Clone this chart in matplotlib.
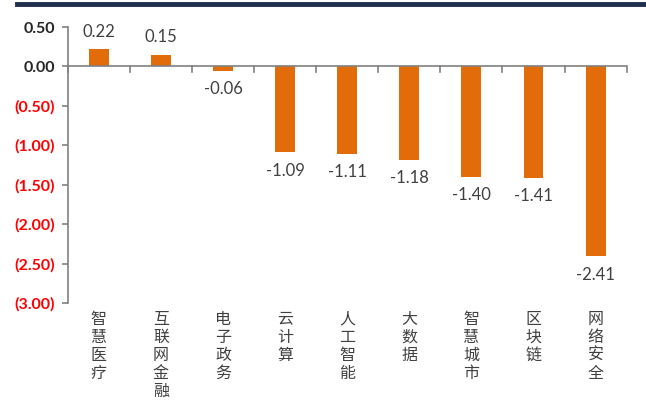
import matplotlib
matplotlib.use("Agg")
import matplotlib.pyplot as plt
from matplotlib.lines import Line2D

plt.rcParams['font.family'] = ['Noto Sans CJK SC', 'DejaVu Sans']

categories = ["智慧医疗", "互联网金融", "电子政务", "云计算", "人工智能", "大数据", "智慧城市", "区块链", "网络安全"]
values = [0.22, 0.15, -0.06, -1.09, -1.11, -1.18, -1.40, -1.41, -2.41]
yticks = [0.5, 0.0, -0.5, -1.0, -1.5, -2.0, -2.5, -3.0]

bar_color = "#E36C0A"
num_font = ["Lato", "DejaVu Sans"]

fig = plt.figure(figsize=(6.46, 4.07), dpi=100)
ax = fig.add_axes([0.105, 0.2555, 0.865, 0.678])

x = list(range(len(categories)))
ax.bar(x, values, width=0.32, color=bar_color, zorder=2)

for xi, v in zip(x, values):
    if v >= 0:
        ax.text(xi, v + 0.12, f"{v:.2f}", ha="center", va="bottom", fontsize=12, color="#404040",
                family=num_font)
    else:
        ax.text(xi, v - 0.13, f"{v:.2f}", ha="center", va="top", fontsize=12, color="#404040",
                family=num_font)

ax.set_xlim(-0.5, len(categories) - 0.5)
ax.set_ylim(-3.0, 0.5)
ax.set_yticks(yticks)
ylabels = []
for t in yticks:
    ylabels.append(f"{t:.2f}" if t >= 0 else f"({abs(t):.2f})")
ax.set_yticklabels(ylabels, fontsize=11.5, fontweight="bold", family=num_font)
for lab, t in zip(ax.get_yticklabels(), yticks):
    lab.set_color("#262626" if t >= 0 else "#FF0000")

for s in ["top", "right", "bottom"]:
    ax.spines[s].set_visible(False)
ax.spines["left"].set_color("#808080")
ax.spines["left"].set_linewidth(1.2)
ax.tick_params(axis="y", direction="out", length=4, color="#808080", width=1.2, pad=5)
ax.set_xticks([])

# zero line with category separator ticks
ax.axhline(0, color="#808080", linewidth=1.2, zorder=3)
for b in range(len(categories) + 1):
    ax.plot([b - 0.5, b - 0.5], [0, -0.07], color="#808080", linewidth=1.2, clip_on=False, zorder=3)

# vertical stacked category labels below the axis
for xi, name in zip(x, categories):
    ax.text(xi, -3.1, "\n".join(name), ha="center", va="top", fontsize=11.5,
            linespacing=1.08, color="#404040")

# header rule
fig.add_artist(Line2D([0.027, 1.0], [0.99, 0.99], transform=fig.transFigure,
                      color="#1F2D4E", linewidth=3.5))

fig.savefig("out.png", dpi=100)
